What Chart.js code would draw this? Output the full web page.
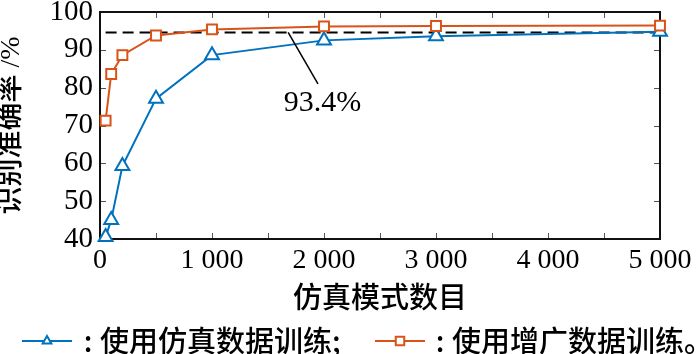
<!DOCTYPE html>
<html>
<head>
<meta charset="utf-8">
<script src="https://cdn.jsdelivr.net/npm/chart.js@4.4.1/dist/chart.umd.min.js"></script>
<style>
  html, body { margin: 0; padding: 0; background: #fff; }
</style>
</head>
<body>
<canvas id="myChart" width="700" height="354"></canvas>
<script>
// data
const xValues = [50, 100, 200, 500, 1000, 2000, 3000, 5000];
const simData = [40.5, 45.0, 59.3, 77.1, 88.6, 92.5, 93.6, 94.8];
const augData = [71.3, 83.6, 88.6, 93.8, 95.4, 96.2, 96.3, 96.4];
const refX = [50, 5000];
const refY = [94.6, 94.6];
const xTicks = [0, 1000, 2000, 3000, 4000, 5000];
const xMinorTicks = [500, 1500, 2500, 3500, 4500];
const yTicks = [40, 50, 60, 70, 80, 90, 100];
const seriesLabels = ['使用仿真数据训练;', '使用增广数据训练。'];
const xTitle = '仿真模式数目';
const yTitle = '识别准确率 /%';
const noteText = '93.4%';
const noteFrom = [1680, 94.6];
const noteTo = [1946, 81.0];
const noteLabelAt = [1987, 75.9];

const blue = '#0072BD';
const orange = '#D95319';
const serif = '"Liberation Serif", "Times New Roman", serif';
const cjk = '"Noto Sans CJK SC", sans-serif';

function fmt(v) {
    return String(v).replace(/\B(?=(\d{3})+(?!\d))/g, ' ');
}

const frameAndTicks = {
    id: 'frameAndTicks',
    beforeDatasetsDraw(chart) {
        const { ctx, chartArea: a, scales: { x, y } } = chart;
        ctx.save();
        ctx.strokeStyle = '#555';
        ctx.lineWidth = 1;
        ctx.beginPath();
        xTicks.concat(xMinorTicks).forEach(v => {
            const px = Math.round(x.getPixelForValue(v)) + 0.5;
            ctx.moveTo(px, a.bottom); ctx.lineTo(px, a.bottom - 6);
            ctx.moveTo(px, a.top); ctx.lineTo(px, a.top + 6);
        });
        yTicks.forEach(v => {
            const py = Math.round(y.getPixelForValue(v)) + 0.5;
            ctx.moveTo(a.left, py); ctx.lineTo(a.left + 6, py);
            ctx.moveTo(a.right, py); ctx.lineTo(a.right - 6, py);
        });
        ctx.stroke();
        ctx.strokeStyle = '#111';
        ctx.lineWidth = 2;
        ctx.strokeRect(a.left, a.top, a.right - a.left, a.bottom - a.top);
        ctx.restore();
    },
    afterDatasetsDraw(chart) {
        const { ctx, scales: { x, y } } = chart;
        ctx.save();
        // annotation
        ctx.strokeStyle = '#000';
        ctx.lineWidth = 1.5;
        ctx.beginPath();
        ctx.moveTo(x.getPixelForValue(noteFrom[0]), y.getPixelForValue(noteFrom[1]));
        ctx.lineTo(x.getPixelForValue(noteTo[0]), y.getPixelForValue(noteTo[1]));
        ctx.stroke();
        ctx.fillStyle = '#000';
        ctx.font = '30px ' + serif;
        ctx.textAlign = 'center';
        ctx.textBaseline = 'middle';
        ctx.fillText(noteText, x.getPixelForValue(noteLabelAt[0]), y.getPixelForValue(noteLabelAt[1]));

        // legend
        const items = [
            { color: blue, style: 'triangle', x0: 22, x1: 72, colon: 88, text: 100 },
            { color: orange, style: 'rect', x0: 375, x1: 425, colon: 440, text: 452 }
        ];
        const ly = 341;
        items.forEach((it, i) => {
            ctx.strokeStyle = it.color;
            ctx.lineWidth = 2;
            ctx.beginPath();
            ctx.moveTo(it.x0, ly); ctx.lineTo(it.x1, ly);
            ctx.stroke();
            ctx.fillStyle = '#fff';
            Chart.helpers.drawPoint(ctx, {
                pointStyle: it.style, rotation: 0,
                radius: it.style === 'rect' ? 6 : 5, borderWidth: 2
            }, (it.x0 + it.x1) / 2, ly);
            ctx.fillStyle = '#000';
            ctx.font = '500 29px ' + cjk;
            ctx.textAlign = 'center';
            ctx.fillText(':', it.colon, ly);
            ctx.textAlign = 'left';
            ctx.fillText(seriesLabels[i], it.text, ly);
        });
        ctx.restore();
    }
};

const data = {
    datasets: [
        {
            label: seriesLabels[0],
            data: xValues.map((v, i) => ({ x: v, y: simData[i] })),
            borderColor: blue,
            backgroundColor: '#fff',
            borderWidth: 2,
            pointStyle: 'triangle',
            pointRadius: 8,
            pointBorderWidth: 2,
            clip: false,
            order: 2
        },
        {
            label: seriesLabels[1],
            data: xValues.map((v, i) => ({ x: v, y: augData[i] })),
            borderColor: orange,
            backgroundColor: '#fff',
            borderWidth: 2,
            pointStyle: 'rect',
            pointRadius: 7,
            pointBorderWidth: 2,
            clip: false,
            order: 1
        },
        {
            label: 'ref',
            data: refX.map((v, i) => ({ x: v, y: refY[i] })),
            borderColor: '#000',
            borderWidth: 2,
            borderDash: [11, 6],
            pointRadius: 0,
            order: 3
        }
    ]
};

const config = {
    type: 'line',
    data: data,
    options: {
        responsive: false,
        animation: false,
        layout: { padding: { left: 0, right: 40, top: 12, bottom: 36 } },
        plugins: {
            legend: { display: false },
            tooltip: { enabled: false }
        },
        scales: {
            x: {
                type: 'linear',
                min: 0,
                max: 5000,
                grid: { display: false, drawTicks: false },
                border: { display: false },
                afterBuildTicks: s => { s.ticks = xTicks.map(v => ({ value: v })); },
                afterFit: s => { s.height = 79; s.paddingLeft = 0; s.paddingRight = 0; },
                ticks: {
                    maxRotation: 0,
                    autoSkip: false,
                    padding: 5,
                    color: '#000',
                    font: { family: serif, size: 28 },
                    callback: v => fmt(v)
                },
                title: {
                    display: true,
                    text: xTitle,
                    color: '#000',
                    font: { family: cjk, size: 29, weight: '500', lineHeight: 1.2 },
                    padding: { top: 0, bottom: 4 }
                }
            },
            y: {
                min: 40,
                max: 100,
                grid: { display: false, drawTicks: false },
                border: { display: false },
                afterBuildTicks: s => { s.ticks = yTicks.map(v => ({ value: v })); },
                afterFit: s => { s.width = 100; s.paddingTop = 0; s.paddingBottom = 0; },
                ticks: {
                    padding: 7,
                    color: '#000',
                    font: { family: serif, size: 29, lineHeight: 0.8 }
                },
                title: {
                    display: true,
                    text: yTitle,
                    color: '#000',
                    font: { family: '"Liberation Serif", "Noto Sans CJK SC", serif', size: 28, weight: '500', lineHeight: 0.85 },
                    padding: 0
                }
            }
        }
    },
    plugins: [frameAndTicks]
};

const ctx = document.getElementById('myChart').getContext('2d');
const myChart = new Chart(ctx, config);
</script>
</body>
</html>
